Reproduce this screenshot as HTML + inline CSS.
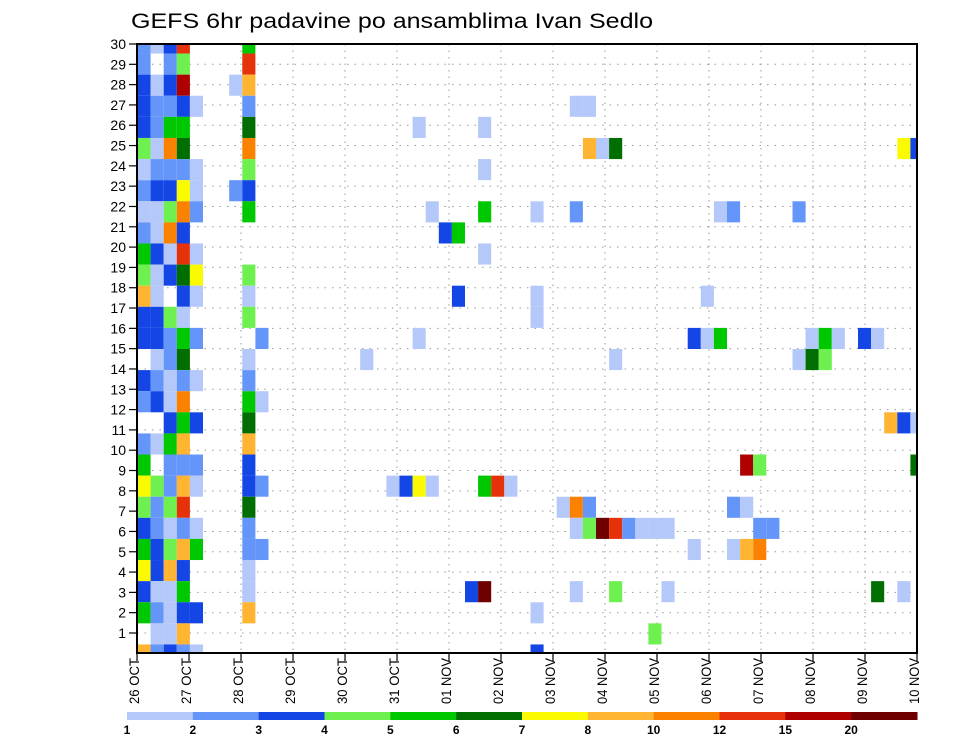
<!DOCTYPE html>
<html><head><meta charset="utf-8"><style>
html,body{margin:0;padding:0;background:#fff;}
svg{display:block;font-family:"Liberation Sans",sans-serif;}
</style></head><body>
<svg id="chart" width="960" height="742" viewBox="0 0 960 742" xmlns="http://www.w3.org/2000/svg">
<defs><clipPath id="plotclip"><rect x="137" y="44" width="780" height="609"/></clipPath></defs>
<rect width="960" height="742" fill="#fff"/>
<text x="131" y="28" font-size="21" textLength="522" lengthAdjust="spacingAndGlyphs" fill="#000">GEFS 6hr padavine po ansamblima Ivan Sedlo</text>
<g id="grid"></g>
<g id="cells" clip-path="url(#plotclip)"></g>
<g id="axes"></g>
<g id="legend"></g>
</svg>
<script>
// ---- data ----
const members = [30,29,28,27,26,25,24,23,22,21,20,19,18,17,16,15,14,13,12,11,10,9,8,7,6,5,4,3,2,1];
const dayLabels = ["26 OCT","27 OCT","28 OCT","29 OCT","30 OCT","31 OCT","01 NOV","02 NOV","03 NOV","04 NOV","05 NOV","06 NOV","07 NOV","08 NOV","09 NOV","10 NOV"];
const yTickLabels = [30,29,28,27,26,25,24,23,22,21,20,19,18,17,16,15,14,13,12,11,10,9,8,7,6,5,4,3,2,1];
// precipitation class codes per member (60 six-hour steps, groups of 10)
const grid = [
"MLBr....G. .......... .......... .......... .......... ..........",
"M.Mg....r. .......... .......... .......... .......... ..........",
"BLBk...LO. .......... .......... .......... .......... ..........",
"BMMBL...M. .......... .......... ...LL..... .......... ..........",
"BMGG....D. .......... .L....L... .......... .......... ..........",
"gLRD....R. .......... .......... ....OLD... .......... ........YB",
"LMMML...g. .......... ......L... .......... .......... ..........",
"MBBYL..MB. .......... .......... .......... .......... ..........",
"LLgRM...G. .......... ..L...G... L..M...... ....LM.... M.........",
"MLRB...... .......... ...BG..... .......... .......... ..........",
"GBLrL..... .......... ......L... .......... .......... ..........",
"gLBDY...g. .......... .......... .......... .......... ..........",
"OL.BL...L. .......... ....B..... L......... ...L...... ..........",
"BBgL....g. .......... .......... L......... .......... ..........",
"BBMGM....M .......... .L........ .......... ..BLG..... .LGL.BL...",
".LMD....L. .......L.. .......... ......L... .......... LDg.......",
"BMLML...M. .......... .......... .......... .......... ..........",
"MBLR....GL .......... .......... .......... .......... ..........",
"..BGB...D. .......... .......... .......... .......... .......OBL",
"MLGO....O. .......... .......... .......... .......... ..........",
"G.MMM...B. .......... .......... .......... ......kg.. .........D",
"YgMOL...BM .........L BYL...GrL. .......... .......... ..........",
"gMgr....D. .......... .......... ..LRM..... .....ML... ..........",
"BMLML...M. .......... .......... ...LgKrMLL L......MM. ..........",
"GBgOG...MM .......... .......... .......... ..L..LOR.. ..........",
"YBOB....L. .......... .......... .......... .......... ..........",
"BLLG....L. .......... .....BK... ...L..g... L......... ......D.L.",
"GMLBB...O. .......... .......... L......... .......... ..........",
".LLO...... .......... .......... .........g .......... ..........",
"OMBML..... .......... .......... B......... .......... .........."
];
const codeKeys = ["L","M","B","g","G","D","Y","O","R","r","k","K"];
const codeValues = [1.5,2.5,3.5,4.5,5.5,6.5,7.5,9,11,13.5,17,25];
const thresholds = [1,2,3,4,5,6,7,8,10,12,15,20];
const colors = ["#b4c8fa","#6496fa","#1446e6","#6ef050","#00c800","#006e00","#fafa00","#ffb432","#fa8200","#e6320a","#af0000","#6e0000"];

// ---- scales ----
const NS="http://www.w3.org/2000/svg";
const px0=137, px1=917, py0=44, py1=653;
const nSteps=60, cellW=13.1;
function xCell(c){return 137.5+c*cellW;}
function yCell(i){return 43+i*(612/29);}
const cellH=612/29;
function xDay(d){return px0+d*(px1-px0)/(dayLabels.length-1);}
function yTick(k){return py0+k*(633-44)/(yTickLabels.length-1);}
function colorFor(v){let idx=-1;for(let j=0;j<thresholds.length;j++){if(v>=thresholds[j])idx=j;}return idx<0?null:colors[idx];}
function mk(tag,attrs,parent){const e=document.createElementNS(NS,tag);for(const k in attrs)e.setAttribute(k,attrs[k]);parent.appendChild(e);return e;}

// grid
const gG=document.getElementById('grid');
yTickLabels.forEach((lab,k)=>{
  const l=mk('line',{x1:px0,x2:px1,y1:yTick(k),y2:yTick(k),stroke:'#999','stroke-width':1,'stroke-dasharray':'1.5 6'},gG);
  
  
});
dayLabels.forEach((lab,d)=>{
  const l=mk('line',{x1:xDay(d),x2:xDay(d),y1:py0,y2:py1,stroke:'#999','stroke-width':1,'stroke-dasharray':'1.5 5'},gG);
  
  
});

// cells
const gC=document.getElementById('cells');
grid.forEach((row,i)=>{
  const s=row.replace(/ /g,'');
  for(let c=0;c<s.length;c++){
    const ch=s[c]; const ki=codeKeys.indexOf(ch);
    if(ki<0) continue;
    const v=codeValues[ki]; const col=colorFor(v);
    const r=mk('rect',{x:xCell(c),y:yCell(i)-cellH/2,width:cellW,height:cellH,fill:col},gC);
    
    
  }
});

// axes
const gA=document.getElementById('axes');
const frame=mk('rect',{x:px0,y:py0,width:px1-px0,height:py1-py0,fill:'none',stroke:'#000','stroke-width':2},gA);


yTickLabels.forEach((lab,k)=>{
  const y=yTick(k);
  mk('line',{x1:129,x2:px0,y1:y,y2:y,stroke:'#000','stroke-width':1.2},gA);
  const t=mk('text',{x:126,y:y+5,'font-size':14,'text-anchor':'end',fill:'#000'},gA);
  t.textContent=lab;
  
  
});
dayLabels.forEach((lab,d)=>{
  const x=xDay(d);
  mk('line',{x1:x,x2:x,y1:py1,y2:py1+8,stroke:'#000','stroke-width':1.2},gA);
  const t=mk('text',{x:0,y:0,'font-size':14,'text-anchor':'end',fill:'#000',transform:'translate('+(x+2)+',658) rotate(-90)',textLength:46,lengthAdjust:'spacingAndGlyphs'},gA);
  t.textContent=lab;
  
  
});

// legend colorbar
const gL=document.getElementById('legend');
const lx0=127, lx1=917, segW=(lx1-lx0)/colors.length;
colors.forEach((c,j)=>{
  const r=mk('rect',{x:lx0+j*segW,y:712,width:segW+0.5,height:8,fill:c},gL);
  
  
});
thresholds.forEach((v,j)=>{
  const t=mk('text',{x:lx0+j*segW,y:734,'font-size':12,'font-weight':'bold','text-anchor':'middle',fill:'#000'},gL);
  t.textContent=v;
  
  
});
</script>
</body></html>
